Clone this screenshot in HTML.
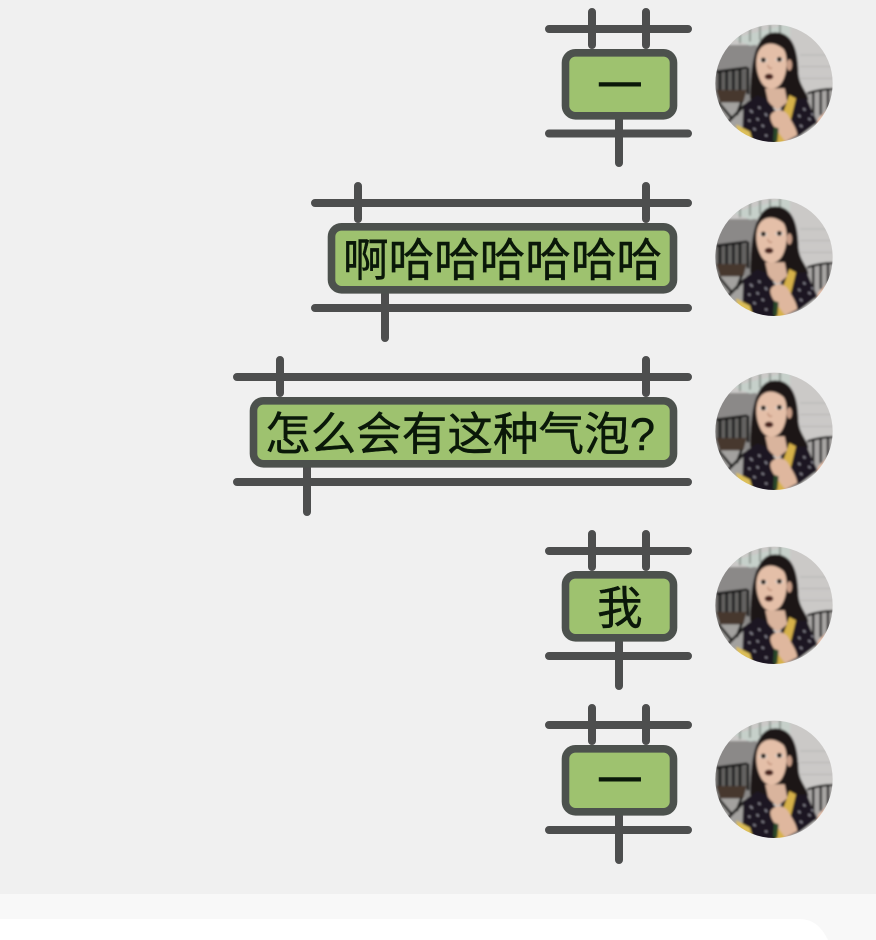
<!DOCTYPE html>
<html lang="zh">
<head>
<meta charset="utf-8">
<title>气泡</title>
<style>
html,body{margin:0;padding:0;width:876px;height:940px;overflow:hidden;background:#f0f0f0}
svg{display:block}
.l{stroke:#4d4e4e;stroke-width:8;stroke-linecap:round;fill:none;filter:blur(.35px)}
.b{fill:#9ec26f;stroke:#4c514d;stroke-width:7.6;filter:blur(.35px)}
text{font-family:"Liberation Sans","Noto Sans CJK SC",sans-serif;font-size:45.6px;fill:#0a1809;stroke:#0a1809;stroke-width:.45;filter:blur(.3px)}
</style>
</head>
<body>
<svg width="876" height="940" viewBox="0 0 876 940" xmlns="http://www.w3.org/2000/svg">
<defs>
<clipPath id="c"><circle cx="222" cy="205" r="176"/></clipPath>
<filter id="s" x="-5%" y="-5%" width="110%" height="110%"><feGaussianBlur stdDeviation="3"/></filter>
<g id="av" transform="translate(700,15) scale(0.33333)">
<g clip-path="url(#c)"><g filter="url(#s)">
<rect x="40" y="20" width="370" height="370" fill="#cbc9c7"/>
<rect x="40" y="90" width="130" height="180" fill="#8b8988"/>
<rect x="40" y="262" width="100" height="90" fill="#a3a19f"/>
<path d="M100 70L270 25V75L150 92Z" fill="#c6d0ca"/>
<path d="M120 40V85M150 35V80M180 32V75M210 30V70M240 28V70" stroke="#8f9892" stroke-width="6"/>
<path d="M300 120H400M300 155H400M300 190H400" stroke="#b6b4b2" stroke-width="3"/>
<path d="M48 165H145V228H48Z" fill="#646260"/>
<path d="M48 170L142 158M60 165V225M80 165V225M100 165V225M120 165V225M144 158V238" stroke="#171514" stroke-width="8" fill="none"/>
<path d="M48 225H140L130 262H60Z" fill="#46392e"/>
<path d="M55 262L95 310M125 260L110 300M80 325L135 270" stroke="#151312" stroke-width="8" fill="none"/>
<path d="M320 235Q360 222 400 222V330H320Z" fill="#a8a6a4"/>
<path d="M322 235Q360 222 400 222M340 232V310M362 226V300M384 224V290" stroke="#171514" stroke-width="7" fill="none"/>
<path d="M355 310L400 270V340L340 380Z" fill="#e8bfa8"/>
<path d="M150 250C152 170 158 52 225 52C290 52 294 130 296 180C300 215 325 235 325 255L250 280L165 270Z" fill="#1d1512"/>
<path d="M170 130C176 85 215 72 250 102C266 122 262 180 243 206C224 230 194 224 182 198C172 178 167 152 170 130Z" fill="#e4bfa8"/>
<ellipse cx="268" cy="150" rx="8" ry="17" fill="#c99f89"/>
<path d="M196 220H254L262 262L232 285L205 262Z" fill="#d9b49d"/>
<path d="M130 270L172 240L200 252L232 295L270 250L320 250L352 322L300 362L240 388H126Z" fill="#1a1720"/>
<path d="M150 285l8 8M170 310l6 6M160 340l7 5M195 295l6 8M185 330l7 5M310 280l6 6M325 310l7 5M300 330l7 6M195 360l7 3M335 295l4 6M145 315l6 4M175 275l6 6M295 300l6 6" stroke="#8f8c98" stroke-width="5"/>
<path d="M268 240L288 250L254 388H226L240 320Z" fill="#d6b148"/>
<path d="M108 328L150 350L160 388H120Z" fill="#dcbe58"/>
<path d="M212 300C225 280 252 282 264 300C274 320 288 335 292 360L256 380L235 352C222 335 208 318 212 300Z" fill="#dfb79e"/>
<path d="M222 335L236 340L232 382L220 378Z" fill="#2c4a2a"/>
<ellipse cx="190" cy="136" rx="12" ry="7" fill="#e9dcd2"/>
<ellipse cx="238" cy="134" rx="12" ry="7" fill="#e9dcd2"/>
<circle cx="190" cy="135" r="7.5" fill="#1f1310"/>
<circle cx="238" cy="133" r="7.5" fill="#1f1310"/>
<ellipse cx="207" cy="185" rx="13" ry="9" fill="#4a201e"/>
<path d="M203 150Q208 165 216 158" stroke="#c4957f" stroke-width="5" fill="none"/>
</g></g>
</g>
</defs>

<!-- row 1 -->
<path class="l" d="M549 29H688M592 12V45M646 12V45M549 133.500H688M619 120V163"/>
<rect class="b" x="565.500" y="52.800" width="108" height="63" rx="10"/>
<text x="597" y="102">一</text>
<use href="#av"/>

<!-- row 2 -->
<path class="l" d="M315 203H688M358 186V219M646 186V219M315 308H688M385 294V338"/>
<rect class="b" x="331.500" y="226.800" width="342" height="63" rx="10"/>
<text x="343" y="276">啊哈哈哈哈哈哈</text>
<use href="#av" y="174"/>

<!-- row 3 -->
<path class="l" d="M237 377H688M280 360V393M646 360V393M237 482H688M307 468V512"/>
<rect class="b" x="253.500" y="400.800" width="420" height="63" rx="10"/>
<text x="265" y="450">怎么会有这种气泡?</text>
<use href="#av" y="348"/>

<!-- row 4 -->
<path class="l" d="M549 551H688M592 534V567M646 534V567M549 656H688M619 642V686"/>
<rect class="b" x="565.500" y="574.800" width="108" height="63" rx="10"/>
<text x="597" y="624">我</text>
<use href="#av" y="522"/>

<!-- row 5 -->
<path class="l" d="M549 725H688M592 708V741M646 708V741M549 830H688M619 816V860"/>
<rect class="b" x="565.500" y="748.800" width="108" height="63" rx="10"/>
<text x="597" y="797">一</text>
<use href="#av" y="696"/>

<!-- bottom bar -->
<rect x="0" y="894" width="876" height="46" fill="#f8f8f8"/>
<path d="M0 919H800Q818 919 828 940H0Z" fill="#ffffff"/>
</svg>
</body>
</html>
